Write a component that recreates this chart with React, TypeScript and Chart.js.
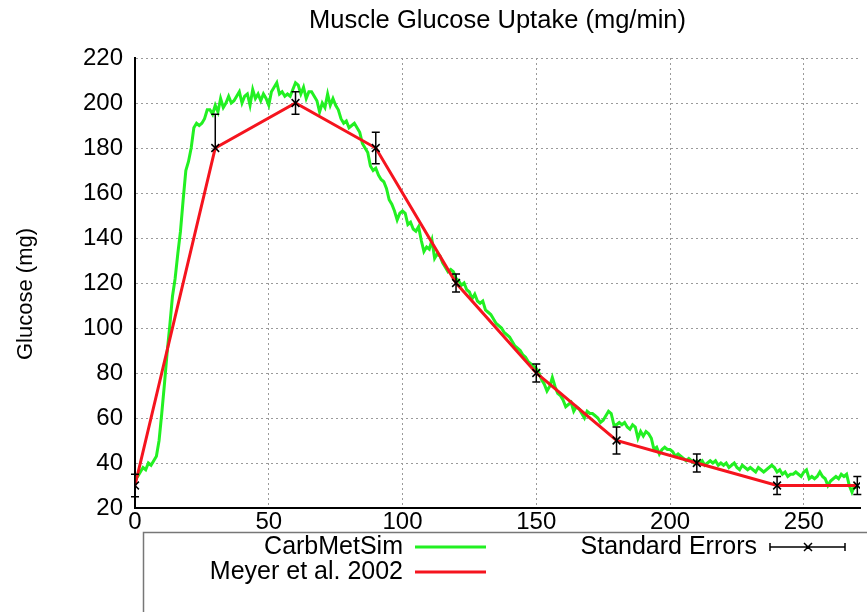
import React, { useEffect, useRef } from 'react';
import { Chart, registerables } from 'chart.js';

Chart.register(...registerables);

const chartTitle = 'Muscle Glucose Uptake (mg/min)';
const yAxisTitle = 'Glucose (mg)';
const xTickValues = [0, 50, 100, 150, 200, 250];
const yTickValues = [20, 40, 60, 80, 100, 120, 140, 160, 180, 200, 220];

// CarbMetSim: one value per minute, t = 0..270
const carbMetSim = [
  33, 34, 36, 38, 37, 40, 39, 41, 43, 50,
  62, 75, 89, 101, 114, 122, 133, 143, 157, 170,
  174, 180, 189, 191, 190, 191, 193, 197, 197, 195,
  199, 196, 202, 198, 200, 203, 200, 201, 203, 205,
  200, 203, 204, 199, 206, 202, 204, 201, 204, 202,
  199, 205, 207, 209, 204, 205, 203, 204, 203, 206,
  209, 208, 204, 207, 202, 205, 205, 203, 201, 196,
  200, 198, 204, 199, 202, 199, 197, 193, 191, 192,
  189, 190, 191, 189, 187, 182, 180, 178, 172, 170,
  171, 168, 166, 165, 162, 157, 155, 152, 148, 151,
  152, 151, 146, 147, 144, 143, 145, 139, 134, 136,
  135, 139, 131, 133, 132, 129, 127, 125, 126, 125,
  122, 121, 119, 120, 117, 116, 113, 115, 112, 111,
  112, 108, 107, 106, 104, 102, 101, 100, 98, 97,
  96, 94, 92, 91, 90, 88, 87, 85, 84, 83,
  82, 80, 77, 75, 72, 74, 78, 74, 71, 70,
  68, 65, 66, 67, 63, 65, 64, 62, 60, 63,
  62, 62, 61, 60, 58, 59, 61, 63, 62, 57,
  57, 58, 57, 58, 56, 55, 57, 56, 51, 54,
  52, 54, 53, 51, 46, 47, 44, 46, 47, 46,
  46, 45, 43, 44, 43, 42, 41, 42, 41, 40,
  41, 40, 41, 39, 40, 41, 40, 41, 39, 40,
  39, 40, 38, 39, 40, 38, 37, 39, 38, 37,
  38, 37, 36, 38, 37, 36, 37, 38, 39, 38,
  36, 37, 35, 36, 34, 35, 35, 36, 35, 34,
  36, 37, 33, 34, 33, 34, 36, 34, 33, 30,
  32, 33, 34, 33, 35, 34, 35, 30, 27, 30,
  29,
];

// Meyer et al. 2002
const meyerTimes = [0, 30, 60, 90, 120, 150, 180, 210, 240, 270];
const meyerValues = [30, 180, 200, 180, 120, 80, 50, 40, 30, 30];
const meyerErrPlus = [5, 15, 5, 7, 4, 4, 6, 4, 4, 4];
const meyerErrMinus = [5, 0, 5, 7, 4, 4, 6, 4, 4, 4];

const FONT = '"Liberation Sans", Arial, sans-serif';
const GREEN = '#22f022';
const RED = '#f5141e';

export default function App() {
  const ref = useRef<HTMLCanvasElement | null>(null);

  useEffect(() => {
    const canvas = ref.current;
    if (!canvas) return;

    const decorations = {
      id: 'decorations',
      afterDatasetsDraw(chart: any) {
        const ctx = chart.ctx as CanvasRenderingContext2D;
        const xs = chart.scales.x;
        const ys = chart.scales.y;
        ctx.save();
        ctx.strokeStyle = '#000';
        ctx.lineWidth = 1.5;
        meyerTimes.forEach((t, i) => {
          const px = xs.getPixelForValue(t);
          const hi = ys.getPixelForValue(meyerValues[i] + meyerErrPlus[i]);
          const lo = ys.getPixelForValue(meyerValues[i] - meyerErrMinus[i]);
          ctx.beginPath();
          ctx.moveTo(px, hi);
          ctx.lineTo(px, lo);
          ctx.moveTo(px - 4, hi);
          ctx.lineTo(px + 4, hi);
          if (meyerErrMinus[i] > 0) {
            ctx.moveTo(px - 4, lo);
            ctx.lineTo(px + 4, lo);
          }
          ctx.stroke();
        });
        ctx.restore();
      },
      afterDraw(chart: any) {
        const ctx = chart.ctx as CanvasRenderingContext2D;
        const area = chart.chartArea;
        ctx.save();
        ctx.fillStyle = '#000';
        // title
        ctx.font = `25.5px ${FONT}`;
        ctx.textAlign = 'center';
        ctx.textBaseline = 'middle';
        ctx.fillText(chartTitle, (area.left + area.right) / 2, 21);
        // y title
        ctx.save();
        ctx.translate(26, 294);
        ctx.rotate(-Math.PI / 2);
        ctx.font = `22px ${FONT}`;
        ctx.fillText(yAxisTitle, 0, 0);
        ctx.restore();

        // legend box
        ctx.strokeStyle = '#777';
        ctx.lineWidth = 1.5;
        ctx.strokeRect(143.5, 532.5, 740, 100);
        ctx.font = `25px ${FONT}`;
        ctx.textAlign = 'right';
        ctx.textBaseline = 'middle';
        ctx.fillText('CarbMetSim', 403, 547);
        ctx.fillText('Meyer et al. 2002', 403, 572);
        ctx.fillText('Standard Errors', 757, 547);

        ctx.lineWidth = 3;
        ctx.strokeStyle = GREEN;
        ctx.beginPath();
        ctx.moveTo(415, 547);
        ctx.lineTo(486, 547);
        ctx.stroke();
        ctx.strokeStyle = RED;
        ctx.beginPath();
        ctx.moveTo(415, 572);
        ctx.lineTo(486, 572);
        ctx.stroke();

        ctx.strokeStyle = '#000';
        ctx.lineWidth = 1.5;
        ctx.beginPath();
        ctx.moveTo(770, 547);
        ctx.lineTo(845, 547);
        ctx.moveTo(770, 543);
        ctx.lineTo(770, 551);
        ctx.moveTo(845, 543);
        ctx.lineTo(845, 551);
        ctx.moveTo(804, 543);
        ctx.lineTo(812, 551);
        ctx.moveTo(812, 543);
        ctx.lineTo(804, 551);
        ctx.stroke();
        ctx.restore();
      },
    };

    const chart = new Chart(canvas, {
      type: 'line',
      data: {
        datasets: [
          {
            label: 'Meyer points',
            data: meyerTimes.map((t, i) => ({ x: t, y: meyerValues[i] })),
            showLine: false,
            pointStyle: 'crossRot',
            pointRadius: 5.5,
            pointBorderWidth: 1.5,
            pointBorderColor: '#000',
            borderColor: '#000',
            order: 1,
          },
          {
            label: 'Meyer et al. 2002',
            data: meyerTimes.map((t, i) => ({ x: t, y: meyerValues[i] })),
            borderColor: RED,
            borderWidth: 3,
            pointRadius: 0,
            tension: 0,
            order: 2,
          },
          {
            label: 'CarbMetSim',
            data: carbMetSim.map((v, i) => ({ x: i, y: v })),
            borderColor: GREEN,
            borderWidth: 3,
            pointRadius: 0,
            tension: 0,
            order: 3,
          },
        ],
      },
      options: {
        responsive: false,
        animation: false,
        devicePixelRatio: 1,
        layout: { padding: { top: 58, right: 0, bottom: 0, left: 0 } },
        plugins: {
          legend: { display: false },
          title: { display: false },
          tooltip: { enabled: false },
        },
        scales: {
          x: {
            type: 'linear',
            min: 0,
            max: 271,
            afterFit: (s: any) => {
              s.height = 104;
            },
            afterBuildTicks: (s: any) => {
              s.ticks = xTickValues.map((v) => ({ value: v }));
            },
            ticks: {
              includeBounds: false,
              color: '#000',
              padding: 0,
              maxRotation: 0,
              font: { family: FONT, size: 24 },
            },
            grid: {
              color: '#9a9a9a',
              lineWidth: 1,
              drawTicks: false,
            },
            border: { display: true, color: '#000', width: 2, dash: [2, 3] },
          },
          y: {
            type: 'linear',
            min: 20,
            max: 220,
            afterFit: (s: any) => {
              s.width = 135;
            },
            afterBuildTicks: (s: any) => {
              s.ticks = yTickValues.map((v) => ({ value: v }));
            },
            ticks: {
              includeBounds: false,
              color: '#000',
              padding: 12,
              font: { family: FONT, size: 24 },
            },
            grid: {
              color: '#9a9a9a',
              lineWidth: 1,
              drawTicks: false,
            },
            border: { display: true, color: '#000', width: 2, dash: [2, 3] },
          },
        },
      },
      plugins: [decorations],
    } as any);

    return () => chart.destroy();
  }, []);

  return (
    <div style={{ position: 'fixed', left: 0, top: 0, width: 867, height: 612, background: '#fff' }}>
      <canvas ref={ref} width={867} height={612} style={{ width: 867, height: 612, display: 'block' }} />
    </div>
  );
}
